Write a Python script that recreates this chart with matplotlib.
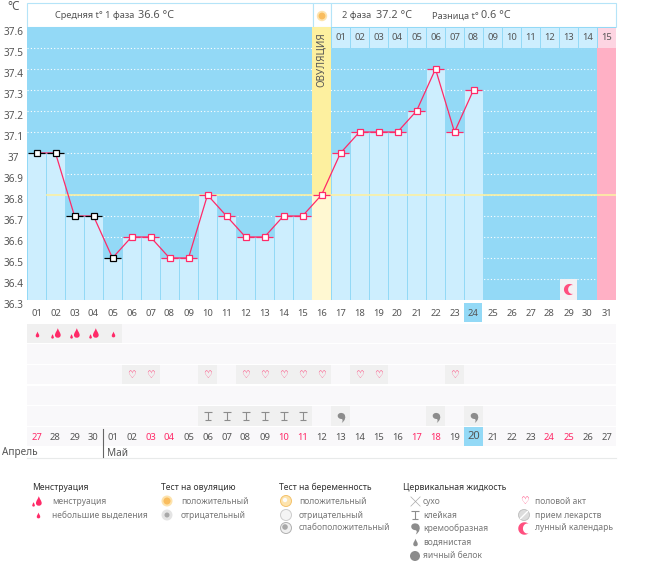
import numpy as np
import matplotlib
matplotlib.use('Agg')
import matplotlib.pyplot as plt
from matplotlib.path import Path
from matplotlib.patches import Rectangle, Circle

plt.rcParams['font.family'] = ['Noto Sans', 'DejaVu Sans']

W, H = 655, 587
SKY = '#93d9f6'
PALE = '#cdeefe'
PINK = '#ff2a68'
GREY = '#555555'

# temperature by cycle day
days = list(range(1, 25))
temps = [37.0, 37.0, 36.7, 36.7, 36.5, 36.6, 36.6, 36.5, 36.5, 36.8, 36.7, 36.6,
         36.6, 36.7, 36.7, 36.8, 37.0, 37.1, 37.1, 37.1, 37.2, 37.4, 37.1, 37.3]
black_days = [1, 2, 3, 4, 5]
ovulation_day = 16
cover_line = 36.8
y_ticks = [36.3, 36.4, 36.5, 36.6, 36.7, 36.8, 36.9, 37.0, 37.1, 37.2, 37.3, 37.4, 37.5, 37.6]
phase2_labels = ['01', '02', '03', '04', '05', '06', '07', '08', '09', '10', '11', '12', '13', '14', '15']

# symptom rows
light_flow = [1, 5]
heavy_flow = [2, 3, 4]
heart_days = [6, 7, 10, 12, 13, 14, 15, 16, 18, 19, 23]
sticky_days = [10, 11, 12, 13, 14, 15]
creamy_days = [17, 22, 24]
moon_day = 29
today = 24
calendar = ['27', '28', '29', '30', '01', '02', '03', '04', '05', '06', '07', '08', '09', '10', '11',
            '12', '13', '14', '15', '16', '17', '18', '19', '20', '21', '22', '23', '24', '25', '26', '27']
red_dates = [1, 7, 8, 14, 15, 21, 22, 28, 29]  # positions in the cycle


# simple icon shapes
def drop_path(cx=0.0, cy=0.0, s=1.0):
    pts = [(0, 1), (0.2, 0.4), (0.6, 0.0), (0.6, -0.45), (0.6, -1.2), (-0.6, -1.2), (-0.6, -0.45),
           (-0.6, 0.0), (-0.2, 0.4), (0, 1)]
    codes = [Path.MOVETO] + [Path.CURVE4] * 9
    return Path([(cx + s * x, cy + s * y) for x, y in pts], codes)


DROP = drop_path()
FLAME = Path.make_compound_path(drop_path(0.25, 0.1, 0.9), drop_path(-0.75, -0.55, 0.42))
STICKY = Path([(-1, 1), (1, 1), (0, 1), (0, -1), (-.7, -1), (.7, -1)],
              [Path.MOVETO, Path.LINETO, Path.MOVETO, Path.LINETO, Path.MOVETO, Path.LINETO])
moon_outer = np.linspace(np.pi * 0.3, np.pi * 1.7, 24)
moon_inner = moon_outer[::-1]
MOON = Path(np.vstack([np.c_[np.cos(moon_outer), np.sin(moon_outer)],
                       np.c_[0.45 + 0.7 * np.cos(moon_inner), 0.8 * np.sin(moon_inner)]]), closed=False)
COMMA = Path([(-0.75, 0.35), (-0.75, 0.9), (0.05, 1.1), (0.5, 0.7), (1.0, 0.2), (0.7, -0.7), (0.05, -1.05),
              (0.3, -0.6), (0.25, -0.4), (0.05, -0.3), (-0.35, -0.3), (-0.75, -0.1), (-0.75, 0.35)],
             [Path.MOVETO] + [Path.CURVE4] * 12)
CROSS = Path([(-1, -1), (1, 1), (-1, 1), (1, -1)], [Path.MOVETO, Path.LINETO, Path.MOVETO, Path.LINETO])


def axes_px(fig, left, top, right, bottom):
    return fig.add_axes([left / W, 1 - bottom / H, (right - left) / W, (bottom - top) / H])


def heart(ax, x, y, size, **kw):
    ax.text(x, y, '\u2661', family='DejaVu Sans', fontsize=size, color=PINK, fontweight='bold',
            ha='center', va='center', **kw)


fig = plt.figure(figsize=(W / 100, H / 100), dpi=100, facecolor='white')

# page layer in pixel coordinates: header boxes, highlights, legend
page = fig.add_axes([0, 0, 1, 1])
page.set_xlim(0, W)
page.set_ylim(H, 0)
page.axis('off')
for x0, x1 in [(27, 313), (313, 331), (331, 616)]:
    page.add_patch(Rectangle((x0, 3), x1 - x0, 24, fc='white', ec='#b5e4f8', lw=0.8))
page.text(14, 7, '\u00b0C', fontsize=8.5, color=GREY, ha='center', va='center')
page.text(55, 16, 'Средняя t\u00b0 1 фаза', fontsize=6.6, color=GREY, va='center')
page.text(138, 15.5, '36.6 \u00b0C', fontsize=7.8, color=GREY, va='center')
page.text(342, 16, '2 фаза', fontsize=6.6, color=GREY, va='center')
page.text(376, 15.5, '37.2 \u00b0C', fontsize=7.8, color=GREY, va='center')
page.text(432, 16, 'Разница t\u00b0', fontsize=6.6, color=GREY, va='center')
page.text(481, 15.5, '0.6 \u00b0C', fontsize=7.8, color=GREY, va='center')
page.add_patch(Circle((322, 16), 5.2, fc='#fde3ad', ec='none'))
page.add_patch(Circle((322, 16), 3.4, fc='#f9bd5f', ec='none'))

# chart
ax = axes_px(fig, 27, 27, 616, 300)
ax.patch.set_facecolor(SKY)
ax.set_xlim(0.5, 31.5)
ax.set_ylim(36.3, 37.6)
for side in ax.spines.values():
    side.set_visible(False)
ax.hlines(y_ticks[1:-1], 0.5, 31.5, color='white', lw=0.8, linestyles=(0, (1, 2)), zorder=1)

bar_days = [d for d in days if d != ovulation_day]
bar_temps = [t for d, t in zip(days, temps) if d != ovulation_day]
ax.bar(bar_days, np.array(bar_temps) - 36.3, bottom=36.3, width=1, color=PALE, edgecolor=SKY, lw=0.7, zorder=2)
ov_temp = temps[days.index(ovulation_day)]
ax.bar([ovulation_day], [37.6 - 36.3], bottom=36.3, width=1, color='#fdf09f', zorder=2)
ax.bar([ovulation_day], [ov_temp - 36.3], bottom=36.3, width=1, color='#fff8d2', zorder=2.1)

# second phase header and the last pink column
head_days = list(range(17, 32))
head_colors = [PALE] * 14 + ['#fdd5e2']
ax.bar(head_days, [0.1] * 15, bottom=37.5, width=1, color=head_colors, edgecolor=SKY, lw=0.7, zorder=2)
ax.bar([31], [1.2], bottom=36.3, width=1, color='#ffb0c5', zorder=2)
for d, lab in zip(head_days, phase2_labels):
    ax.text(d, 37.548, lab, fontsize=6.8, color=GREY, ha='center', va='center', zorder=3)
ax.text(ovulation_day, 37.445, 'ОВУЛЯЦИЯ', rotation=90, fontsize=7.1, color=GREY,
        ha='center', va='center', zorder=3)

# moon cell
ax.bar([moon_day], [0.1], bottom=36.3, width=0.94, color='#f3f2f4', zorder=2)
ax.plot([moon_day], [36.35], marker=MOON, ms=8, color='#ff4f7f', mew=0, zorder=3)

ax.axhline(cover_line, xmin=1.05 / 31, color='#fbf0a3', lw=1.2, zorder=4)
ax.plot(days, temps, color=PINK, lw=0.9, zorder=5)
for d, t in zip(days, temps):
    col = 'black' if d in black_days else PINK
    ax.hlines(t, d - 0.45, d + 0.45, color=col, lw=0.9, zorder=6)
    ax.plot([d], [t], marker='s', ms=4, mfc='white', mec=col, mew=0.9, zorder=7)

ax.set_xticks(range(1, 32))
ax.set_xticklabels([f'{d:02d}' for d in range(1, 32)])
ax.set_yticks(y_ticks)
ax.set_yticklabels([f'{t:g}' for t in y_ticks])
ax.tick_params(axis='x', length=0, pad=6.5, labelsize=6.8, labelcolor=GREY)
ax.tick_params(axis='y', length=0, pad=9.5, labelsize=7.2, labelcolor=GREY)
for lab in ax.get_yticklabels():
    lab.set_ha('center')
    lab.set_va('top')

# today highlights
page.add_patch(Rectangle((27 + (today - 1) * 19, 303), 18, 19, fc=SKY, ec='none'))

# symptom grid
rows = axes_px(fig, 27, 323, 616, 447)
rows.patch.set_alpha(0)
rows.set_xlim(0.5, 31.5)
rows.set_ylim(6, 0)
rows.axis('off')
all_days = np.arange(1, 32)
for r in range(6):
    rows.bar(all_days, [0.93] * 31, bottom=r + 0.03, width=0.95, color='#f9f8fa', zorder=1)
rows.bar(light_flow + heavy_flow, [0.93] * 5, bottom=0.03, width=0.95, color='#f0f0f0', zorder=2)
rows.bar(heart_days, [0.93] * len(heart_days), bottom=2.03, width=0.95, color='#f0f0f0', zorder=2)
rows.bar(sticky_days + creamy_days, [0.93] * 9, bottom=4.03, width=0.95, color='#f0f0f0', zorder=2)
rows.bar([today], [0.93], bottom=5.03, width=0.95, color=SKY, zorder=2)

rows.plot(light_flow, [0.52] * len(light_flow), ls='', marker=DROP, ms=5, color=PINK, mew=0, zorder=3)
rows.plot(heavy_flow, [0.5] * len(heavy_flow), ls='', marker=FLAME, ms=8, color=PINK, mew=0, zorder=3)
for d in heart_days:
    heart(rows, d, 2.5, 7, zorder=3)
rows.plot(sticky_days, [4.5] * 6, ls='', marker=STICKY, ms=6, color='#8c8c8c', mew=0.8, mfc='none', zorder=3)
rows.plot(creamy_days, [4.55] * 3, ls='', marker=COMMA, ms=8, color='#8c8c8c', mew=0, zorder=3)
for i, lab in enumerate(calendar, start=1):
    col = PINK if i in red_dates else GREY
    size = 8 if i == today else 6.8
    rows.text(i, 5.5 if i == today else 5.52, lab, fontsize=size, color=col, ha='center', va='center', zorder=3)

# month labels
rows.plot([4.5, 4.5], [5.15, 6.5], color='#666666', lw=0.8, clip_on=False, zorder=4)
page.text(2, 453, 'Апрель', fontsize=7.2, color=GREY, va='center')
page.text(107, 453, 'Май', fontsize=7.2, color=GREY, va='center')
page.plot([27, 616], [458, 458], color='#e8eaea', lw=0.8)

# legend
LEG = '#777777'
for x, title in [(32, 'Менструация'), (161, 'Тест на овуляцию'), (279, 'Тест на беременность'),
                 (403, 'Цервикальная жидкость')]:
    page.text(x, 487, title, fontsize=6.2, color='#333333', va='center')
items = [
    (52, 501, 'менструация'), (52, 515, 'небольшие выделения'),
    (181, 501, 'положительный'), (181, 515, 'отрицательный'),
    (299, 501, 'положительный'), (299, 515, 'отрицательный'), (299, 528, 'слабоположительный'),
    (423, 501, 'сухо'), (423, 515, 'клейкая'), (423, 528, 'кремообразная'), (423, 542, 'водянистая'),
    (423, 556, 'яичный белок'),
    (535, 501, 'половой акт'), (535, 515, 'прием лекарств'), (535, 528, 'лунный календарь'),
]
for x, y, label in items:
    page.text(x, y, label, fontsize=6.1, color=LEG, va='center')

page.plot([37], [501], marker=FLAME, ms=8, color=PINK, mew=0)
page.plot([37.5], [515], marker=DROP, ms=5, color=PINK, mew=0)
page.add_patch(Circle((167, 501), 5.5, fc='#fde3ad', ec='none'))
page.add_patch(Circle((167, 501), 3.5, fc='#f9bd5f', ec='none'))
page.add_patch(Circle((167, 515), 5.5, fc='#e4e4e4', ec='none'))
page.add_patch(Circle((167, 515), 2.5, fc='#a8a8a8', ec='none'))
page.add_patch(Circle((286, 501), 5.5, fc='#fde3ad', ec='#f4c26b', lw=0.7))
page.add_patch(Circle((285, 500), 2.2, fc='#fbfbfb', ec='none'))
page.add_patch(Circle((286, 515), 5.5, fc='#f4f4f4', ec='#cccccc', lw=0.7))
page.add_patch(Circle((286, 528), 5.5, fc='#f0f0f0', ec='#b0b0b0', lw=0.7))
page.add_patch(Circle((285, 527), 2.8, fc='#a8a8a8', ec='none'))
page.plot([415], [501], marker=CROSS, ms=7, color='#aaaaaa', mew=0.5, mfc='none')
page.plot([415], [515], marker=STICKY, ms=5.5, color='#8c8c8c', mew=0.8, mfc='none')
page.plot([415], [528], marker=COMMA, ms=9, color='#8c8c8c', mew=0)
page.plot([415], [542], marker=DROP, ms=6.5, color='#8c8c8c', mew=0)
page.add_patch(Circle((415, 556), 5, fc='#8c8c8c', ec='none'))
heart(page, 524, 501, 7)
page.add_patch(Circle((524, 515), 5.5, fc='#dcdcdc', ec='#bdbdbd', lw=0.6))
page.plot([520.5, 527.5], [518.5, 511.5], color='white', lw=1)
page.plot([524], [528], marker=MOON, ms=9, color='#ff4f7f', mew=0)

fig.savefig('out.png', dpi=100, facecolor='white')
